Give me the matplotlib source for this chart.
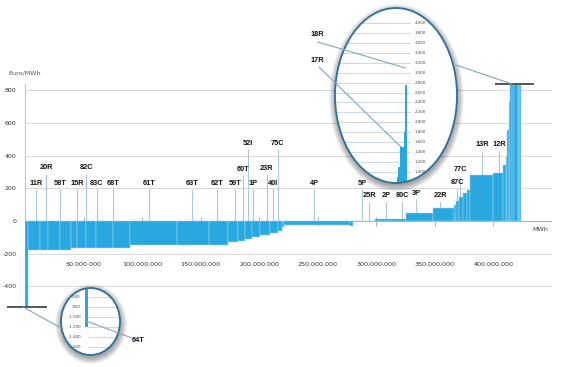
import matplotlib
matplotlib.use("Agg")
import matplotlib.pyplot as plt
from matplotlib.patches import Ellipse
import numpy as np

# merit order blocks: width in million MWh, price in Euro/MWh
block_width = [2.6, 10.2, 7.0, 10.0, 9.5, 5.1, 7.6, 8.5, 14.5, 14.7, 39.9, 27.4, 16.5,
               8.5, 6.0, 6.0, 7.0, 8.4, 6.6, 3.8, 1.7, 56.3, 2.5, 18.7,
               26.0, 23.0, 18.0, 2.4, 2.6, 3.4, 2.6, 3.3, 19.7, 8.5,
               1.8, 1.7, 1.7, 0.8, 1.3, 1.5, 3.5, 1.2, 1.0, 0.7]
block_price = [-1200, -180, -180, -180, -180, -165, -165, -165, -165, -165, -148, -148, -148,
               -130, -120, -110, -96, -86, -76, -59, -37, -24, -32, 0,
               12, 47, 78, 98, 122, 149, 171, 190, 281, 296,
               343, 394, 557, 730, 900, 1100, 1500, 1800, 2750, 3600]

# plant labels: name, position (million MWh), label height (Euro/MWh)
plant_names = ["11R", "20R", "58T", "15R", "82C", "83C", "68T", "61T", "63T", "62T",
               "59T", "60T", "52I", "1P", "23R", "40I", "75C", "4P", "5P", "25R",
               "2P", "80C", "3P", "22R", "87C", "77C", "13R", "12R"]
plant_x = [9.1, 17.9, 29.9, 44.4, 52.1, 61.3, 75.2, 106.0, 142.7, 164.1,
           179.5, 186.1, 190.6, 194.9, 206.6, 211.7, 216.0, 247.0, 287.8, 294.0,
           308.5, 322.2, 334.2, 354.7, 369.0, 371.8, 390.3, 405.1]
plant_y = [232, 325, 232, 232, 326, 232, 232, 232, 232, 232,
           232, 318, 477, 232, 324, 232, 477, 232, 232, 153,
           153, 153, 171, 153, 234, 312, 465, 465]

y_ticks = [800, 600, 400, 200, 0, -200, -400]
x_ticks = [50, 100, 150, 200, 250, 300, 350, 400]
zoom_hi_ticks = [1000, 1200, 1400, 1600, 1800, 2000, 2200, 2400, 2600, 2800,
                 3000, 3200, 3400, 3600, 3800, 4000]
zoom_lo_ticks = [-600, -800, -1000, -1200, -1400, -1600]

BLUE = "#29a7df"
EDGE = "#9ed6f0"
GRID = "#d9d9d9"
PLINE = "#a9c7da"
RING = "#2f6f9a"
W, H = 562, 367
LABEL_FONT = ["Liberation Sans Narrow", "Liberation Sans", "DejaVu Sans"]


def fmt(v):
    return f"{int(round(v)):,}".replace(",", ".")


lefts = np.concatenate([[0], np.cumsum(block_width)[:-1]])
rights = np.cumsum(block_width)

fig = plt.figure(figsize=(W / 100, H / 100), dpi=100)


def frac(px, py):
    return px / W, 1 - py / H


# main axes: 0 -> px 25, 450M -> px 552; y: 0 at py 221, 200 = 32.7 px
y_lo, y_hi = -528, 838
py_top = 221 - y_hi * 32.7 / 200
py_bot = 221 - y_lo * 32.7 / 200
l, b = frac(25, py_bot)
r, t = frac(552, py_top)
ax = fig.add_axes([l, b, r - l, t - b], zorder=1)
ax.set_xlim(0, 450)
ax.set_ylim(y_lo, y_hi)
ax.patch.set_visible(False)
for s in ["top", "right", "bottom"]:
    ax.spines[s].set_visible(False)
ax.spines["left"].set_color("#c4c4c4")
ax.spines["left"].set_linewidth(0.8)

for v in y_ticks:
    if v != 0:
        ax.axhline(v, color=GRID, lw=0.7, zorder=0)
ax.axhline(0, color="#b0b0b0", lw=0.8, zorder=1)
ax.vlines(x_ticks + [450], -30, 25, color="#b0b0b0", lw=0.7, zorder=1)

ax.bar(lefts, block_price, block_width, align="edge", color=BLUE,
       edgecolor=EDGE, linewidth=0.35, zorder=3)

ax.set_yticks(y_ticks)
ax.set_yticklabels([str(v) for v in y_ticks])
ax.set_xticks([])
ax.tick_params(axis="y", length=0, labelsize=4.5, pad=6, labelcolor="#333333")

for v in x_ticks:
    ax.text(v, -263, fmt(v * 1e6), ha="center", va="center", fontsize=4.6,
            color="#333333")
ax.text(447, -55, "MWh", ha="right", va="center", fontsize=4.6, color="#444444")
fig.text(*frac(8, 73), "Euro/MWh", ha="left", va="center", fontsize=4.6,
         color="#555555")

# plant labels with leader lines down to the curve
for name, x, y in zip(plant_names, plant_x, plant_y):
    i = np.searchsorted(rights, x)
    top = max(block_price[i], 0)
    ax.vlines(x, top, y - 38, color=PLINE, lw=0.8, zorder=2)
    ax.text(x, y, name, ha="center", va="center", fontsize=5.3,
            fontweight="bold", family=LABEL_FONT, color="#111111", zorder=4)

# truncation caps
ax.plot([401, 435], [y_hi, y_hi], color="#555555", lw=1.4, clip_on=False,
        zorder=5, solid_capstyle="butt")
ax.plot([-15.4, 18.8], [y_lo, y_lo], color="#555555", lw=1.4, clip_on=False,
        zorder=5, solid_capstyle="butt")

# shadow layer
sh = fig.add_axes([0, 0, 1, 1], zorder=2)
sh.set_xlim(0, W)
sh.set_ylim(H, 0)
sh.axis("off")
for (cx, cy, ew, eh) in [(396, 95.5, 122, 175), (90.5, 321.5, 59, 67)]:
    for k in range(8):
        sh.add_patch(Ellipse((cx + 0.5, cy + 2.5), ew + 1.8 * k, eh + 1.8 * k,
                             color="black", alpha=0.05, lw=0))


def zoom_axes(px0, py0, pw, ph, xlim, ylim, ticks, grid_from, grid_to,
              lab_x, lab_ha):
    l, b = frac(px0, py0 + ph)
    a = fig.add_axes([l, b, pw / W, ph / H], zorder=3)
    a.set_xlim(*xlim)
    a.set_ylim(*ylim)
    a.axis("off")
    clip = Ellipse((0.5, 0.5), 1, 1, transform=a.transAxes, facecolor="white",
                   edgecolor="none", zorder=0)
    a.add_patch(clip)
    arts = []
    for v in ticks:
        arts += a.plot([grid_from, grid_to], [v, v], color="#c8d9e5", lw=0.7,
                       zorder=1)
        a.text(lab_x, v, fmt(v), ha=lab_ha, va="center", fontsize=2.8,
               color="#444444", zorder=2)
    bars = a.bar(lefts, block_price, block_width, align="edge", color=BLUE,
                 edgecolor="none", zorder=3)
    arts += list(bars)
    for art in arts:
        art.set_clip_path(clip)
    a.add_patch(Ellipse((0.5, 0.5), 1, 1, transform=a.transAxes, fill=False,
                        edgecolor=RING, lw=1.3, zorder=5, clip_on=False))
    return a


# upper zoom: same x scale as main axes, 1000 at py 172, 4000 at py 23
hx0 = 417.3 - (400 - 335) / 1.17
zoom_axes(335, 8, 122, 175, (hx0, hx0 + 122 / 1.17), (779, 4302),
          zoom_hi_ticks, hx0, hx0 + 75 / 1.17, hx0 + 80 / 1.17, "left")

# lower zoom
lx0 = -(85 - 61) / 1.17
zoom_axes(61, 288, 59, 67, (lx0, lx0 + 59 / 1.17), (-1760, -420),
          zoom_lo_ticks, 2.6, lx0 + 59 / 1.17, lx0 + 20 / 1.17, "right")

# callouts on top
ov = fig.add_axes([0, 0, 1, 1], zorder=4)
ov.set_xlim(0, W)
ov.set_ylim(H, 0)
ov.axis("off")
ov.patch.set_visible(False)
call = "#7fa6c0"
ov.plot([456, 512], [65, 84], color=call, lw=0.8)
ov.plot([23, 61], [307, 328], color=call, lw=0.8)
ov.plot([318, 405.5], [42, 68], color=call, lw=0.8)
ov.plot([319, 401], [67, 147], color=call, lw=0.8)
ov.plot([86, 132], [321, 338], color=call, lw=0.8)
for txt, x, y in [("18R", 317, 35), ("17R", 317, 61), ("64T", 138, 341)]:
    ov.text(x, y, txt, ha="center", va="center", fontsize=5.3, fontweight="bold",
            family=LABEL_FONT, color="#111111")

fig.savefig("out.png", dpi=100)
